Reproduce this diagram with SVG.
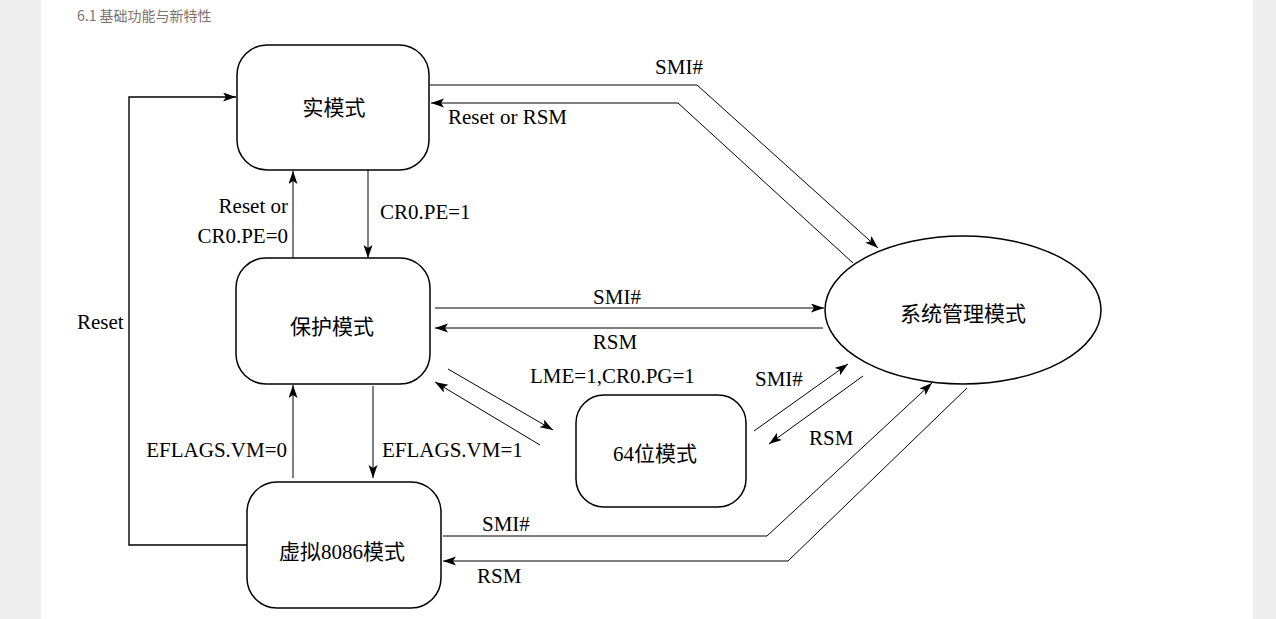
<svg xmlns="http://www.w3.org/2000/svg" width="1276" height="619" viewBox="0 0 1276 619">
<defs>
<style>
.node{fill:#fff;stroke:#000;stroke-width:1.5}
.c{fill:none;stroke:#000;stroke-width:1;marker-end:url(#ah)}
.t{font-family:"Liberation Serif","Noto Sans CJK SC",serif;font-size:21px;fill:#000}
.n{font-family:"Liberation Serif","Noto Sans CJK SC",serif;font-size:21px;fill:#000;text-anchor:middle}
</style>
<marker id="ah" markerUnits="userSpaceOnUse" markerWidth="14" markerHeight="10" refX="13" refY="4.5" orient="auto">
<path d="M0,0 L13,4.5 L0,9 L3,4.5 Z" fill="#000"/>
</marker>
</defs>
<rect x="0" y="0" width="1276" height="619" fill="#fff"/>
<rect x="0" y="0" width="41" height="619" fill="#eeeeee"/>
<rect x="1253" y="0" width="23" height="619" fill="#eeeeee"/>
<text x="77" y="21" font-family="'Noto Sans CJK SC','Noto Sans',sans-serif" font-size="14" fill="#7d716c">6.1 基础功能与新特性</text>

<g id="connectors">
<polyline class="c" points="247,545 129,545 129,97 236,97" style="stroke-width:1.4"/>
<line class="c" x1="293" y1="258" x2="293" y2="171"/>
<line class="c" x1="368" y1="170" x2="368" y2="258"/>
<line class="c" x1="373" y1="386" x2="373" y2="478"/>
<line class="c" x1="293" y1="478" x2="293" y2="385"/>
<polyline class="c" points="430,85 697,85 878,248"/>
<polyline class="c" points="853,263 678,103 431,103"/>
<line class="c" x1="435" y1="308" x2="824" y2="308"/>
<line class="c" x1="823" y1="328" x2="435" y2="328"/>
<line class="c" x1="448" y1="369" x2="553" y2="430"/>
<line class="c" x1="540" y1="445" x2="435" y2="382"/>
<line class="c" x1="754" y1="431" x2="848" y2="364"/>
<line class="c" x1="863" y1="376" x2="769" y2="444"/>
<polyline class="c" points="443,536 767,536 932,383"/>
<polyline class="c" points="967,388 788,561 443,561"/>
<text class="t" x="679" y="74" text-anchor="middle">SMI#</text>
<text class="t" x="448" y="124">Reset or RSM</text>
<text class="t" x="288" y="213" text-anchor="end">Reset or</text>
<text class="t" x="288" y="243" text-anchor="end">CR0.PE=0</text>
<text class="t" x="380" y="219">CR0.PE=1</text>
<text class="t" x="77" y="329">Reset</text>
<text class="t" x="617" y="304" text-anchor="middle">SMI#</text>
<text class="t" x="615" y="349" text-anchor="middle">RSM</text>
<text class="t" x="530" y="383">LME=1,CR0.PG=1</text>
<text class="t" x="755" y="386">SMI#</text>
<text class="t" x="809" y="445">RSM</text>
<text class="t" x="287" y="457" text-anchor="end">EFLAGS.VM=0</text>
<text class="t" x="382" y="457">EFLAGS.VM=1</text>
<text class="t" x="482" y="531">SMI#</text>
<text class="t" x="477" y="583">RSM</text>
</g>

<g id="real-mode">
<rect class="node" x="237" y="45" width="192" height="125" rx="30"/>
<text class="n" x="334" y="115">实模式</text>
</g>
<g id="protected-mode">
<rect class="node" x="236" y="258" width="194" height="126" rx="30"/>
<text class="n" x="332" y="334">保护模式</text>
</g>
<g id="mode-64">
<rect class="node" x="576" y="395" width="170" height="112" rx="28"/>
<text class="n" x="655" y="461">64位模式</text>
</g>
<g id="vm86-mode">
<rect class="node" x="247" y="482" width="194" height="126" rx="30"/>
<text class="n" x="342" y="559">虚拟8086模式</text>
</g>
<g id="smm">
<ellipse class="node" cx="963" cy="310" rx="138" ry="74"/>
<text class="n" x="963" y="321">系统管理模式</text>
</g>
</svg>
